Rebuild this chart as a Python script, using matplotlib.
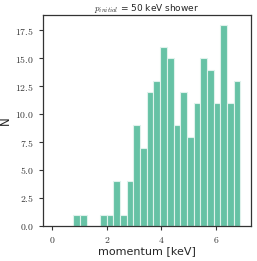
import numpy as np
import matplotlib
matplotlib.use("Agg")
import matplotlib.pyplot as plt
import seaborn as sns
from matplotlib.ticker import FuncFormatter

sns.set_style("ticks")
plt.rcParams["mathtext.fontset"] = "cm"
plt.rcParams["font.family"] = ["DejaVu Sans"]

# histogram of momenta, 25 bins
bin_start = 0.76
bin_width = 0.246
counts = [1, 1, 0, 0, 1, 1, 4, 1, 4, 9, 7, 12, 13, 16, 15, 9, 12, 8, 11, 15, 14, 11, 18, 11, 13]
edges = bin_start + bin_width * np.arange(len(counts) + 1)

fig = plt.figure(figsize=(2.57, 2.61), dpi=100)
ax = fig.add_axes([0.167, 0.135, 0.81, 0.808])

ax.hist(edges[:-1], bins=edges, weights=counts, color="#66c2a5",
        edgecolor="#dff2ec", linewidth=0.8)

ax.set_xlim(-0.35, 7.3)
ax.set_ylim(0, 18.9)
ax.set_xticks([0, 2, 4, 6])
ax.set_yticks(np.arange(0, 18, 2.5))
ax.xaxis.set_major_formatter(FuncFormatter(lambda v, p: r"$%d$" % v))
ax.yaxis.set_major_formatter(FuncFormatter(lambda v, p: r"$%.1f$" % v))
ax.tick_params(labelsize=7, length=3, width=0.8, colors="#333333")
for s in ax.spines.values():
    s.set_color("#333333")
    s.set_linewidth(0.9)

ax.set_xlabel("momentum [keV]", fontsize=8, labelpad=1)
ax.set_ylabel("N", fontsize=8.5)
ax.yaxis.set_label_coords(-0.15, 0.5)
ax.set_title(r"$p_{initial}$ = 50 keV shower", fontsize=6.5, pad=2)

fig.savefig("out.png", dpi=100)
